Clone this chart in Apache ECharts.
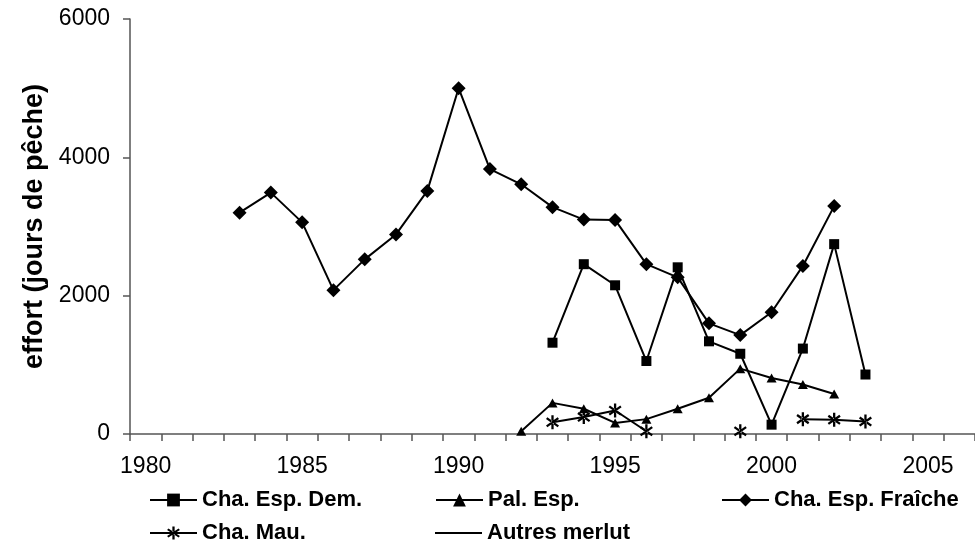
<!DOCTYPE html>
<html>
<head>
<meta charset="utf-8">
<script src="https://cdn.jsdelivr.net/npm/echarts@6/dist/echarts.min.js"></script>
<style>html,body{margin:0;padding:0;background:#fff}#c{width:975px;height:548px}</style>
</head>
<body>
<div id="c"></div>
<script>
// Categories (years) and tick labels
const years = [1980,1981,1982,1983,1984,1985,1986,1987,1988,1989,1990,1991,1992,1993,1994,1995,1996,1997,1998,1999,2000,2001,2002,2003,2004,2005,2006];
const yTicks = [0, 2000, 4000, 6000];

// Cha. Esp. Dem.
const demYears  = [1993,1994,1995,1996,1997,1998,1999,2000,2001,2002,2003];
const demValues = [1320,2455,2150,1055,2410,1340,1160,135,1235,2745,860];

// Pal. Esp.
const palYears  = [1992,1993,1994,1995,1996,1997,1998,1999,2000,2001,2002];
const palValues = [40,450,365,160,215,365,525,945,810,715,578];

// Cha. Esp. Fraîche
const fraYears  = [1983,1984,1985,1986,1987,1988,1989,1990,1991,1992,1993,1994,1995,1996,1997,1998,1999,2000,2001,2002];
const fraValues = [3200,3490,3060,2080,2525,2885,3515,5000,3830,3610,3280,3100,3095,2455,2265,1600,1430,1760,2430,3295];

// Cha. Mau.
const mauYears  = [1993,1994,1995,1996,1999,2001,2002,2003];
const mauValues = [170,245,340,40,40,215,205,180];

// Autres merlut (no visible values)
const autYears  = [];
const autValues = [];

function align(ys, vs) {
  return years.map(y => { const i = ys.indexOf(y); return i >= 0 ? vs[i] : null; });
}

const star = 'path://M-1.6,-10 L1.6,-10 L1.6,10 L-1.6,10 Z M7.2,-7.15 L9.05,-4.5 L-7.2,7.15 L-9.05,4.5 Z M-7.2,-7.15 L-9.05,-4.5 L7.2,7.15 L9.05,4.5 Z';
const lineIcon = 'path://M0,0 L47,0 L47,2 L0,2 Z';
const FONT = "'Liberation Sans', Arial, sans-serif";

function mk(name, ys, vs, symbol, size) {
  return {
    name, type: 'line', data: align(ys, vs),
    symbol, symbolSize: size, showSymbol: symbol !== 'none', showAllSymbol: true,
    connectNulls: false,
    lineStyle: { color: '#000', width: 2 },
    itemStyle: { color: '#000', borderWidth: 0 },
    emphasis: { disabled: true }
  };
}

const chart = echarts.init(document.getElementById('c'), null, { renderer: 'canvas' });

function legendAt(item, left, top) {
  return {
    data: [item], left, top, padding: 0, itemWidth: 47, itemHeight: 16,
    selectedMode: false,
    lineStyle: { width: 2 },
    textStyle: { fontFamily: FONT, fontSize: 22, fontWeight: 'bold', color: '#000' }
  };
}

chart.setOption({
  animation: false,
  backgroundColor: '#fff',
  grid: { left: 130, top: 19, width: 850, bottom: 114, containLabel: false },
  xAxis: {
    type: 'category', data: years.map(String), boundaryGap: true,
    axisLine: { lineStyle: { color: '#555', width: 1.5 } },
    axisTick: { show: true, interval: 0, length: 7, lineStyle: { color: '#555', width: 1.5 } },
    axisLabel: { interval: 4, margin: 21, fontFamily: FONT, fontSize: 23, color: '#000' },
    splitLine: { show: false }
  },
  yAxis: {
    type: 'value', min: yTicks[0], max: yTicks[yTicks.length - 1], interval: 2000,
    name: 'effort (jours de pêche)', nameLocation: 'middle', nameGap: 80,
    nameTextStyle: { fontFamily: FONT, fontSize: 27, fontWeight: 'bold', color: '#000' },
    axisLine: { show: true, lineStyle: { color: '#555', width: 1.5 } },
    axisTick: { show: true, length: 7, lineStyle: { color: '#555', width: 1.5 } },
    axisLabel: { margin: 20, fontFamily: FONT, fontSize: 23, color: '#000', formatter: v => String(v) },
    splitLine: { show: false }
  },
  legend: [
    legendAt('Cha. Esp. Dem.', 149, 489),
    legendAt('Pal. Esp.', 435, 489),
    legendAt('Cha. Esp. Fraîche', 721, 489),
    legendAt('Cha. Mau.', 149, 522),
    legendAt({ name: 'Autres merlut', icon: lineIcon }, 435, 522)
  ],
  series: [
    mk('Cha. Esp. Dem.', demYears, demValues, 'rect', 10),
    mk('Pal. Esp.', palYears, palValues, 'triangle', [10, 9]),
    mk('Cha. Esp. Fraîche', fraYears, fraValues, 'diamond', 14),
    mk('Cha. Mau.', mauYears, mauValues, star, [13, 14]),
    mk('Autres merlut', autYears, autValues, 'none', 0)
  ]
});
</script>
</body>
</html>
